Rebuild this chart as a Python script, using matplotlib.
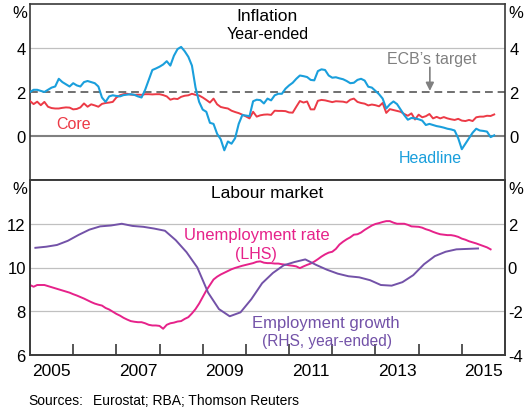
import numpy as np
import matplotlib
matplotlib.use("Agg")
import matplotlib.pyplot as plt

plt.rcParams['font.family'] = ['Liberation Sans', 'DejaVu Sans']
plt.rcParams['axes.unicode_minus'] = False

# monthly, Jan 2005 - Oct 2015 (year-ended %)
headline = [2.0, 2.1, 2.1, 2.05, 2.0, 2.1, 2.2, 2.25, 2.6, 2.45, 2.35, 2.25,
            2.4, 2.3, 2.25, 2.45, 2.5, 2.45, 2.4, 2.25, 1.75, 1.55, 1.8, 1.85,
            1.82, 1.8, 1.86, 1.88, 1.9, 1.87, 1.8, 1.75, 2.1, 2.55, 3.0, 3.07,
            3.15, 3.25, 3.4, 3.2, 3.65, 3.95, 4.05, 3.85, 3.6, 3.2, 2.2, 1.55,
            1.2, 1.1, 0.6, 0.55, 0.1, -0.15, -0.65, -0.25, -0.35, -0.1, 0.55, 0.95,
            0.93, 0.9, 1.58, 1.65, 1.63, 1.48, 1.7, 1.62, 1.85, 1.92, 1.92, 2.15,
            2.3, 2.42, 2.6, 2.75, 2.72, 2.68, 2.55, 2.53, 2.95, 3.03, 3.0, 2.75,
            2.65, 2.67, 2.62, 2.58, 2.5, 2.4, 2.42, 2.55, 2.6, 2.52, 2.24, 2.2,
            2.05, 1.9, 1.7, 1.25, 1.44, 1.57, 1.45, 1.2, 0.95, 0.74, 0.82, 0.8,
            0.76, 0.7, 0.5, 0.55, 0.5, 0.45, 0.42, 0.38, 0.33, 0.3, 0.25, -0.1,
            -0.6, -0.35, -0.1, 0.15, 0.33, 0.25, 0.23, 0.2, -0.05, 0.03]
core = [1.59, 1.45, 1.56, 1.4, 1.55, 1.33, 1.27, 1.25, 1.25, 1.28, 1.3, 1.29,
        1.21, 1.23, 1.3, 1.48, 1.33, 1.44, 1.39, 1.33, 1.46, 1.5, 1.52, 1.55,
        1.75, 1.85, 1.9, 1.92, 1.88, 1.87, 1.88, 1.87, 1.9, 1.9, 1.89, 1.9,
        1.9, 1.86, 1.8, 1.65, 1.7, 1.68, 1.78, 1.83, 1.85, 1.92, 1.87, 1.84,
        1.75, 1.64, 1.52, 1.7, 1.44, 1.32, 1.28, 1.25, 1.15, 1.09, 1.04, 0.97,
        0.89, 0.8, 1.1, 0.88, 0.94, 0.97, 0.98, 0.96, 1.15, 1.14, 1.14, 1.13,
        1.07, 1.06, 1.33, 1.59, 1.52, 1.57, 1.21, 1.21, 1.6, 1.64, 1.62, 1.58,
        1.54, 1.58, 1.57, 1.56, 1.52, 1.65, 1.7, 1.55, 1.5, 1.47, 1.39, 1.43,
        1.4, 1.35, 1.5, 1.05, 1.22, 1.18, 1.14, 1.1, 1.0, 0.92, 1.03, 0.75,
        0.97, 0.85, 0.9, 1.0, 0.8, 0.87, 0.8, 0.86, 0.8, 0.76, 0.73, 0.78,
        0.7, 0.68, 0.73, 0.68, 0.85, 0.88, 0.88, 0.92, 0.91, 0.98]

# monthly, Jan 2005 - Sep 2015 (%)
unemployment = [9.2, 9.12, 9.2, 9.2, 9.2, 9.15, 9.1, 9.05, 9.0, 8.95, 8.9, 8.85,
                8.78, 8.72, 8.65, 8.58, 8.5, 8.42, 8.35, 8.3, 8.26, 8.15, 8.08, 7.98,
                7.88, 7.8, 7.7, 7.62, 7.55, 7.52, 7.5, 7.5, 7.45, 7.38, 7.35, 7.35,
                7.33, 7.2, 7.38, 7.45, 7.48, 7.53, 7.55, 7.65, 7.73, 7.9, 8.1, 8.35,
                8.65, 8.95, 9.2, 9.45, 9.58, 9.68, 9.76, 9.84, 9.92, 9.98, 10.03, 10.08,
                10.12, 10.16, 10.2, 10.26, 10.28, 10.22, 10.2, 10.2, 10.18, 10.18, 10.15, 10.13,
                10.1, 10.08, 10.05, 9.97, 10.05, 10.12, 10.18, 10.27, 10.38, 10.5, 10.6, 10.68,
                10.72, 10.85, 11.05, 11.18, 11.29, 11.38, 11.5, 11.52, 11.6, 11.72, 11.82, 11.92,
                11.99, 12.03, 12.08, 12.12, 12.12, 12.05, 12.0, 12.0, 12.0, 11.95, 11.88, 11.87,
                11.86, 11.82, 11.75, 11.7, 11.63, 11.57, 11.52, 11.5, 11.48, 11.48, 11.45, 11.4,
                11.32, 11.27, 11.2, 11.15, 11.1, 11.04, 10.98, 10.92, 10.83]

# quarterly, Q1 2005 - Q2 2015 (year-ended %)
employment = [0.9, 0.95, 1.03, 1.22, 1.49, 1.73, 1.88, 1.92, 2.0, 1.9, 1.86, 1.78,
              1.68, 1.25, 0.7, 0.0, -1.15, -1.9, -2.23, -2.05, -1.45, -0.72, -0.25, 0.1,
              0.25, 0.37, 0.12, -0.1, -0.28, -0.4, -0.45, -0.58, -0.8, -0.83, -0.67, -0.35,
              0.15, 0.52, 0.72, 0.83, 0.85, 0.87]

x_head = 2005 + np.arange(len(headline)) / 12
x_core = 2005 + np.arange(len(core)) / 12
x_unemp = 2005 + np.arange(len(unemployment)) / 12
x_emp = 2005.125 + np.arange(len(employment)) / 4

c_head = '#1a9fdc'
c_core = '#ec3a46'
c_unemp = '#e6228a'
c_emp = '#7352a8'
c_grid = '#c0c0c0'
c_frame = '#3a3a3a'

W, H = 528, 410
fig = plt.figure(figsize=(W / 100, H / 100), dpi=100)
ax1 = fig.add_axes([30 / W, 1 - 181 / H, 475 / W, 176 / H])
ax2 = fig.add_axes([30 / W, 1 - 356 / H, 475 / W, 175 / H])

for ax in (ax1, ax2):
    ax.set_xlim(2005, 2016)
    for s in ax.spines.values():
        s.set_color(c_frame)
        s.set_linewidth(1.2)

# --- top panel: inflation
ax1.set_ylim(-2, 6)
ax1.axhline(4, color=c_grid, lw=0.9, zorder=1)
ax1.axhline(0, color='#808080', lw=1.5, zorder=1)
ax1.axhline(2, color='#707070', lw=1.4, ls=(0, (4, 2.5)), zorder=1)
ax1.plot(x_core, core, color=c_core, lw=1.4, zorder=3)
ax1.plot(x_head, headline, color=c_head, lw=1.5, zorder=4)
ax1.set_yticks([0, 2, 4])
ax1.set_xticks([])
ax1.tick_params(axis='y', length=0, labelsize=12, pad=3, labelright=True)

ax1.text(0.5, 0.932, 'Inflation', transform=ax1.transAxes, ha='center', va='center', fontsize=12.5)
ax1.text(0.5, 0.835, 'Year-ended', transform=ax1.transAxes, ha='center', va='center', fontsize=11.5)
ax1.text(2006.02, 0.59, 'Core', color=c_core, ha='center', va='center', fontsize=11.5)
ax1.text(2014.28, -1.0, 'Headline', color=c_head, ha='center', va='center', fontsize=11.5)
ax1.text(2014.31, 3.5, 'ECB\u2019s target', color='#808080', ha='center', va='center', fontsize=11.5)
ax1.annotate('', xy=(2014.26, 2.05), xytext=(2014.26, 3.12),
             arrowprops=dict(arrowstyle='-|>', color='#808080', lw=1.2, mutation_scale=12,
                             shrinkA=0, shrinkB=0))

# --- bottom panel: labour market
ax2.set_ylim(6, 14)
for v in (8, 10, 12):
    ax2.axhline(v, color=c_grid, lw=0.9, zorder=1)
ax2.plot(x_unemp, unemployment, color=c_unemp, lw=1.4, zorder=3)
ax2.set_yticks([6, 8, 10, 12])
ax2.tick_params(axis='y', length=0, labelsize=12, pad=3)

ax2r = ax2.twinx()
ax2r.set_ylim(-4, 4)
ax2r.plot(x_emp, employment, color=c_emp, lw=1.4, zorder=3)
ax2r.set_yticks([-4, -2, 0, 2])
ax2r.tick_params(axis='y', length=0, labelsize=12, pad=2)
for s in ax2r.spines.values():
    s.set_color(c_frame)
    s.set_linewidth(1.2)

ax2.set_xticks(np.arange(2006, 2016))
ax2.set_xticklabels([])
ax2.set_xticks(np.arange(2005, 2016, 2) + 0.5, minor=True)
ax2.set_xticklabels([str(y) for y in range(2005, 2016, 2)], minor=True)
ax2.tick_params(axis='x', which='major', direction='in', length=8, width=1.2, color=c_frame)
ax2.tick_params(axis='x', which='minor', length=0, labelsize=12.5, pad=6)

ax2.text(0.5, 0.931, 'Labour market', transform=ax2.transAxes, ha='center', va='center', fontsize=12.5)
ax2.text(2010.25, 11.5, 'Unemployment rate', color=c_unemp, ha='center', va='center', fontsize=12)
ax2.text(2010.23, 10.64, '(LHS)', color=c_unemp, ha='center', va='center', fontsize=11.5)
ax2.text(2011.85, 7.5, 'Employment growth', color=c_emp, ha='center', va='center', fontsize=12)
ax2.text(2011.88, 6.68, '(RHS, year-ended)', color=c_emp, ha='center', va='center', fontsize=11.2)

# percent signs and source
for px, py in [(20, 14), (516, 14), (20, 190), (516, 190)]:
    fig.text(px / W, 1 - py / H, '%', ha='center', va='center', fontsize=12)
fig.text(28 / W, 1 - 401 / H, 'Sources:', ha='left', va='center', fontsize=10)
fig.text(93 / W, 1 - 401 / H, 'Eurostat; RBA; Thomson Reuters', ha='left', va='center', fontsize=10)

fig.savefig('out.png', dpi=100)
